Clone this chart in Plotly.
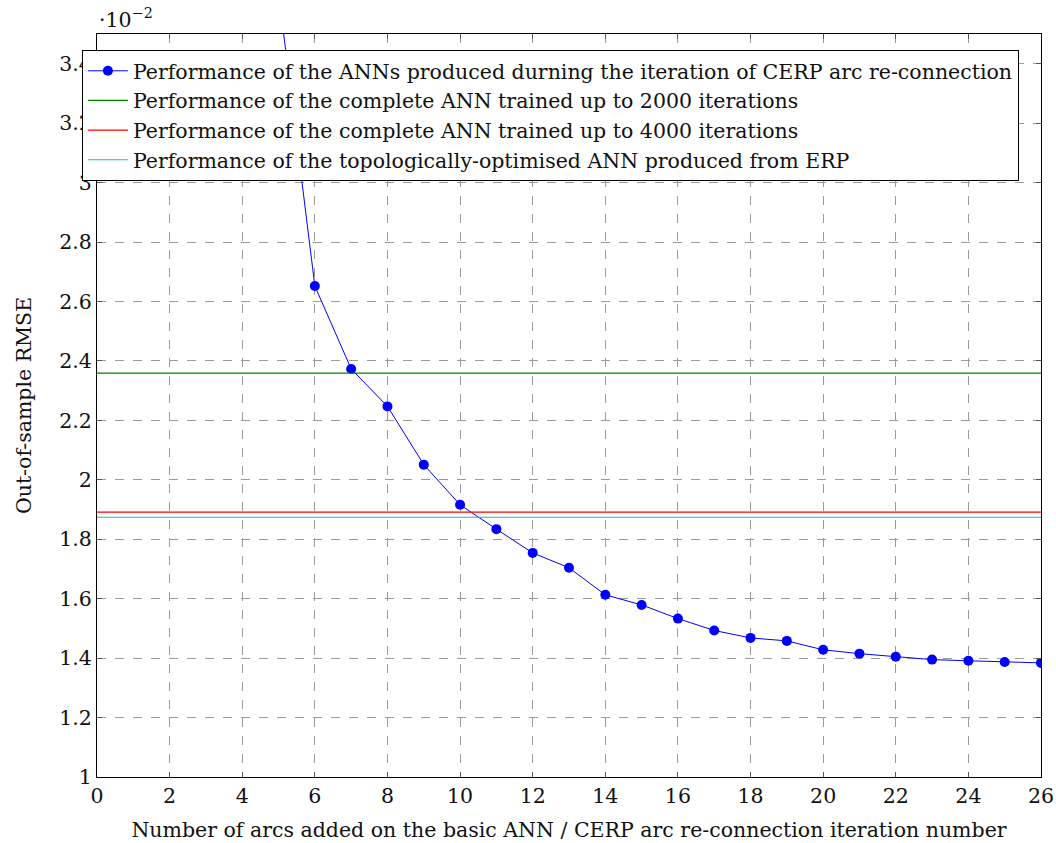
import plotly.graph_objects as go

# CERP arc re-connection results (RMSE values in units of 1e-2)
iterations = [5, 6, 7, 8, 9, 10, 11, 12, 13, 14, 15, 16, 17, 18, 19, 20, 21, 22, 23, 24, 25, 26]
rmse_cerp = [3.64, 2.652, 2.373, 2.247, 2.051, 1.916, 1.834, 1.754, 1.704, 1.613, 1.579, 1.533,
             1.493, 1.468, 1.458, 1.428, 1.415, 1.405, 1.395, 1.391, 1.387, 1.384]

# Reference performance levels (units of 1e-2)
rmse_full_2000 = 2.359
rmse_full_4000 = 1.891
rmse_erp = 1.874

x_range = [0, 26]
y_range = [1, 3.5]
x_ticks = list(range(0, 27, 2))
y_ticks = [1, 1.2, 1.4, 1.6, 1.8, 2, 2.2, 2.4, 2.6, 2.8, 3, 3.2, 3.4]

FONT = "DejaVu Serif"
FS = 20.5

fig = go.Figure()

fig.add_trace(go.Scatter(
    x=iterations, y=rmse_cerp, mode="lines+markers",
    line=dict(color="#0000ff", width=1),
    marker=dict(color="#0000ff", size=10),
    name="Performance of the ANNs produced durning the iteration of CERP arc re-connection",
))
fig.add_trace(go.Scatter(
    x=x_range, y=[rmse_full_2000] * 2, mode="lines",
    line=dict(color="#008000", width=1.2),
    name="Performance of the complete ANN trained up to 2000 iterations",
))
fig.add_trace(go.Scatter(
    x=x_range, y=[rmse_full_4000] * 2, mode="lines",
    line=dict(color="#ff0000", width=1.2),
    name="Performance of the complete ANN trained up to 4000 iterations",
))
fig.add_trace(go.Scatter(
    x=x_range, y=[rmse_erp] * 2, mode="lines",
    line=dict(color="#22b4b4", width=1.2),
    name="Performance of the topologically-optimised ANN produced from ERP",
))

axis_common = dict(
    showline=True, linecolor="black", linewidth=1.2, mirror="ticks",
    ticks="inside", ticklen=5, tickcolor="#555555", tickwidth=1,
    showgrid=True, gridcolor="#9a9a9a", griddash="dash", gridwidth=1,
    zeroline=False, automargin=False,
    tickfont=dict(family=FONT, size=FS, color="#111111"),
)

fig.update_xaxes(
    range=x_range, tickvals=x_ticks, ticktext=[str(v) for v in x_ticks],
    title=dict(text="Number of arcs added on the basic ANN / CERP arc re-connection iteration number",
               font=dict(family=FONT, size=FS, color="#111111"), standoff=15),
    **axis_common,
)
fig.update_yaxes(
    range=y_range, tickvals=y_ticks, ticktext=[f"{v:g}" for v in y_ticks],
    title=dict(text="Out-of-sample RMSE", font=dict(family=FONT, size=FS, color="#111111"), standoff=22),
    **axis_common,
)

fig.add_annotation(
    x=0, y=1, xref="paper", yref="paper", xanchor="left", yanchor="bottom",
    text="·10<sup>−2</sup>", showarrow=False, yshift=0,
    font=dict(family=FONT, size=FS, color="#111111"),
)

fig.update_layout(
    width=1056, height=843,
    margin=dict(l=97, r=15, t=34, b=66),
    paper_bgcolor="white", plot_bgcolor="white",
    showlegend=True,
    legend=dict(
        x=-0.016, y=0.9785, xanchor="left", yanchor="top",
        bgcolor="white", bordercolor="black", borderwidth=1,
        font=dict(family=FONT, size=FS, color="#111111"),
        tracegroupgap=0, itemwidth=40,
    ),
)

fig.write_html("out.html")
